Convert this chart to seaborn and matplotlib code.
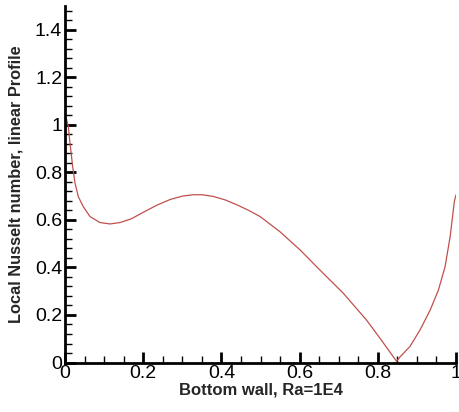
import matplotlib
matplotlib.use("Agg")
import matplotlib.pyplot as plt
import seaborn as sns
import pandas as pd
from matplotlib.ticker import MultipleLocator, FuncFormatter

# Data
x_pos = [0.0, 0.0085, 0.0128, 0.0196, 0.0256, 0.034, 0.047, 0.064, 0.0895, 0.115, 0.141,
         0.17, 0.2, 0.235, 0.269, 0.3, 0.328, 0.35, 0.379, 0.41, 0.439, 0.47, 0.499,
         0.55, 0.601, 0.652, 0.712, 0.771, 0.81, 0.848, 0.857, 0.882, 0.908, 0.934,
         0.955, 0.972, 0.985, 0.996, 1.0]
nusselt = [1.05, 0.993, 0.923, 0.824, 0.755, 0.698, 0.655, 0.614, 0.589, 0.583, 0.589,
           0.605, 0.632, 0.662, 0.686, 0.700, 0.706, 0.706, 0.699, 0.684, 0.664, 0.640, 0.614,
           0.550, 0.474, 0.389, 0.291, 0.179, 0.092, 0.005, 0.024, 0.067, 0.137, 0.221,
           0.305, 0.403, 0.530, 0.680, 0.705]

x_label = "Bottom wall, Ra=1E4"
y_label = "Local Nusselt number, linear Profile"

df = pd.DataFrame({"x": x_pos, "nu": nusselt})

sns.set_style("ticks")
plt.rcParams["font.family"] = ["Liberation Sans", "DejaVu Sans"]

fig = plt.figure(figsize=(4.59, 4.12), dpi=100)
ax = fig.add_axes([0.1416, 0.1201, 0.8519, 0.8653])

sns.lineplot(data=df, x="x", y="nu", ax=ax, color="#c0504d", linewidth=0.9)

ax.set_xlim(0, 1)
ax.set_ylim(0, 1.5)
ax.xaxis.set_major_locator(MultipleLocator(0.2))
ax.xaxis.set_minor_locator(MultipleLocator(0.05))
ax.yaxis.set_major_locator(MultipleLocator(0.2))
ax.yaxis.set_minor_locator(MultipleLocator(0.04))

def fmt(v, p):
    s = f"{v:.1f}"
    if s.endswith(".0"):
        s = s[:-2]
    return s
ax.xaxis.set_major_formatter(FuncFormatter(fmt))
ax.yaxis.set_major_formatter(FuncFormatter(fmt))

for s in ["top", "right"]:
    ax.spines[s].set_visible(False)
for s in ["left", "bottom"]:
    ax.spines[s].set_linewidth(2)
    ax.spines[s].set_color("black")

ax.tick_params(which="major", direction="in", length=8, width=2, labelsize=14, pad=2, colors="black")
ax.tick_params(which="minor", direction="in", length=5, width=1, colors="black")

ax.set_xlabel(x_label, fontsize=12, fontweight="bold", labelpad=0)
ax.set_ylabel(y_label, fontsize=11.8, fontweight="bold", labelpad=8)

fig.savefig("out.png", dpi=100, facecolor="white")
